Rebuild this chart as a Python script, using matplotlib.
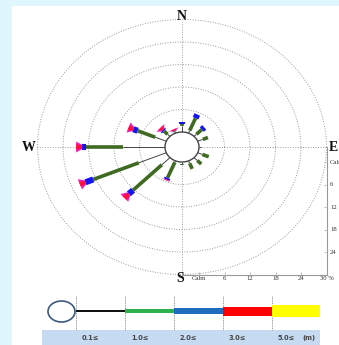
import numpy as np
import matplotlib
matplotlib.use('Agg')
import matplotlib.pyplot as plt
from matplotlib.patches import Ellipse, Rectangle, Polygon

# wave rose data (% of occurrence per height class, 16 directions)
directions = ['N', 'NNE', 'NE', 'ENE', 'E', 'ESE', 'SE', 'SSE',
              'S', 'SSW', 'SW', 'WSW', 'W', 'WNW', 'NW', 'NNW']
dir_deg = [0, 22.5, 45, 67.5, 90, 112.5, 135, 157.5,
           180, 202.5, 225, 247.5, 270, 292.5, 315, 337.5]
pct_01 = [1.6, 0.7, 0.8, 1.3, 0.5, 1.2, 1.1, 0.7, 0.6, 0.4, 2.7, 7.0, 9.9, 2.8, 0.8, 0.4]
pct_10 = [0.5, 3.6, 1.8, 1.3, 0.0, 1.6, 1.3, 1.6, 0.3, 4.5, 9.6, 11.6, 8.7, 4.5, 1.2, 0.2]
pct_20 = [0.6, 1.1, 0.8, 0.0, 0.0, 0.0, 0.0, 0.0, 0.0, 0.5, 1.4, 2.0, 0.9, 1.1, 0.4, 0.1]
pct_30 = [0.0, 0.0, 0.0, 0.0, 0.0, 0.0, 0.0, 0.0, 0.0, 0.2, 1.5, 1.4, 1.4, 1.2, 0.8, 0.4]
pct_50 = [0.0] * 16

calm = 4.0
ring_ticks = [6, 12, 18, 24, 30]
tick_labels = ['Calm', '6', '12', '18', '24', '30 %']

classes = ['0.1\u2264', '1.0\u2264', '2.0\u2264', '3.0\u2264', '5.0\u2264']
class_colors = ['#111111', '#2eb24b', '#1f6dbf', '#fe0000', '#ffff00']
unit_label = '(m)'

W, H = 339, 345
fig = plt.figure(figsize=(W / 100, H / 100), dpi=100)
fig.patch.set_facecolor('#dff6fc')
fig.patches.append(Rectangle((12 / W, 0), 1, 1 - 6 / H, transform=fig.transFigure,
                             facecolor='white', edgecolor='none', zorder=-10))

# rose axes: pixel scale differs in x and y (stretched picture)
cx, cy, sx, sy = 182, 147, 4.25, 3.75
xl, xr, yb, yt = -42, 37, -36, 38
ax = fig.add_axes([(cx + xl * sx) / W, 1 - (cy - yb * sy) / H,
                   (xr - xl) * sx / W, (yt - yb) * sy / H])
ax.set_xlim(xl, xr)
ax.set_ylim(yb, yt)
ax.axis('off')

grid_kw = dict(color='#9a9a9a', lw=0.7, ls=(0, (1, 1.6)), zorder=1)
t = np.linspace(0, 2 * np.pi, 300)
for v in ring_ticks:
    r = calm + v
    ax.plot(r * np.cos(t), r * np.sin(t), **grid_kw)
rmax = calm + ring_ticks[-1]
ax.plot([0, 0], [-rmax, rmax], **grid_kw)
ax.plot([-rmax, rmax], [0, 0], **grid_kw)

# calm circle
ax.fill(calm * np.cos(t), calm * np.sin(t), facecolor='white', edgecolor='#444444',
        lw=1.0, zorder=3)

rose_colors = ['#444444', '#3e6a22', '#1414f5']
rose_lw = [0.7, 2.6, 4.4]


def fan(theta, ra, rb, w0, w1, color, z):
    s, c = np.sin(theta), np.cos(theta)
    px, py = c / sx, -s / sy
    pts = [(ra * s + w0 * px, ra * c + w0 * py), (rb * s + w1 * px, rb * c + w1 * py),
           (rb * s - w1 * px, rb * c - w1 * py), (ra * s - w0 * px, ra * c - w0 * py)]
    ax.add_patch(Polygon(pts, closed=True, facecolor=color, edgecolor='none', zorder=z))


for i in range(16):
    th = np.radians(dir_deg[i])
    s, c = np.sin(th), np.cos(th)
    edges = np.cumsum([calm, pct_01[i], pct_10[i], pct_20[i], pct_30[i], pct_50[i]])
    for k in range(3):
        ra, rb = edges[k], edges[k + 1]
        if rb - ra > 0:
            ax.plot([ra * s, rb * s], [ra * c, rb * c], color=rose_colors[k],
                    lw=rose_lw[k], solid_capstyle='butt', zorder=4 + k)
    if pct_30[i] > 0:
        fan(th, edges[3], edges[4], 2.2, 5.5, '#ee22c0', 7)
        fan(th, edges[3], edges[4], 1.4, 3.0, '#ff1040', 8)

# compass labels
lab_kw = dict(family='Liberation Serif', fontweight='bold', fontsize=10,
              ha='center', va='center', color='#111111')
ax.text(0, 34.8, 'N', **lab_kw)
ax.text(-36, 0, 'W', **lab_kw)
ax.text(35.6, 0, 'E', **lab_kw)
ax.text(-0.5, -35.2, 'S', **lab_kw)

# scale axes
ax.plot([0, rmax], [-rmax, -rmax], color='#999999', lw=0.8, zorder=2)
ax.plot([rmax, rmax], [0, -rmax], color='#999999', lw=0.8, zorder=2)
tk_kw = dict(family='Liberation Serif', fontsize=4.8, color='#333333')
for j, lab in enumerate(tick_labels):
    r = calm + ([0] + ring_ticks)[j]
    ax.text(r, -rmax - 0.5, lab, ha='center', va='top', **tk_kw)
    ax.plot([r], [-rmax + 0.3], marker='|', ms=1.5, color='#999999', mew=0.5)
    if j < len(tick_labels) - 1:
        ax.text(rmax + 0.8, -r, lab, ha='left', va='center', clip_on=False, **tk_kw)
        ax.plot([rmax - 0.3], [-r], marker='_', ms=1.5, color='#999999', mew=0.5)

# legend bar (pixel coordinates)
lg = fig.add_axes([0, 0, 1, 1])
lg.set_xlim(0, W)
lg.set_ylim(H, 0)
lg.axis('off')
lg.patch.set_alpha(0)
lg.add_patch(Rectangle((42, 330), 278, 15, facecolor='#c6daf1', edgecolor='none'))
lg.add_patch(Ellipse((61.5, 311.5), 27, 21, facecolor='white', edgecolor='#3d5a80', lw=1.2))
bounds = [76, 125, 174, 223, 272, 320]
heights = [1.8, 3.5, 6.5, 9, 12]
for k in range(5):
    lg.add_patch(Rectangle((bounds[k], 311 - heights[k] / 2), bounds[k + 1] - bounds[k],
                           heights[k], facecolor=class_colors[k], edgecolor='none', zorder=3))
    lg.plot([bounds[k], bounds[k]], [296, 330], color='#777777', lw=0.6,
            ls=(0, (1, 1)), zorder=2)
    lg.text(bounds[k] + 6, 338, classes[k], fontsize=4.8, fontweight='bold',
            color='#444444', ha='left', va='center')
lg.text(302, 338, unit_label, fontsize=4.8, fontweight='bold', color='#444444',
        ha='left', va='center')

fig.savefig('out.png', dpi=100, facecolor=fig.get_facecolor())
